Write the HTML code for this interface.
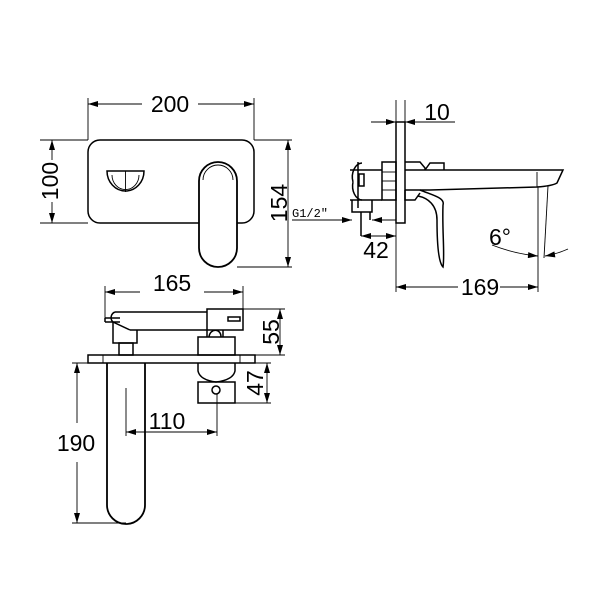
<!DOCTYPE html>
<html><head><meta charset="utf-8"><style>html,body{margin:0;padding:0;background:#fff}svg{display:block}</style></head>
<body>
<svg width="600" height="600" viewBox="0 0 600 600" xmlns="http://www.w3.org/2000/svg">
<defs>
<marker id="a" viewBox="0 0 10 6" refX="10" refY="3" markerWidth="11" markerHeight="6" orient="auto-start-reverse" markerUnits="userSpaceOnUse"><path d="M0,0 L10,3 L0,6 z" fill="#000"/></marker>
</defs>
<g fill="none" stroke="#000" stroke-width="1.5">
<!-- front view -->
<rect x="88" y="140" width="166" height="83" rx="12"/>
<path d="M107,171 H144 A18.5,20 0 0 1 107,171 Z"/>
<path d="M112,175 A13,14 0 0 0 139,175" stroke-width="0.9"/>
<line x1="125.5" y1="171" x2="125.5" y2="192" stroke-width="0.9"/>
<rect x="199" y="162" width="38" height="105" rx="19" fill="#fff" stroke-width="1.8"/>
<path d="M203,180 A15,15 0 0 1 233,180" stroke-width="0.9"/>
<!-- dims front -->
<g stroke-width="0.9">
<line x1="88" y1="98" x2="88" y2="140"/>
<line x1="254" y1="98" x2="254" y2="140"/>
<line x1="88" y1="104" x2="142" y2="104" marker-start="url(#a)"/>
<line x1="198" y1="104" x2="254" y2="104" marker-end="url(#a)"/>
<line x1="40" y1="140" x2="88" y2="140"/>
<line x1="40" y1="223" x2="88" y2="223"/>
<line x1="52" y1="140" x2="52" y2="160" marker-start="url(#a)"/>
<line x1="52" y1="202" x2="52" y2="223" marker-end="url(#a)"/>
<line x1="254" y1="140" x2="292" y2="140"/>
<line x1="237" y1="267" x2="292" y2="267"/>
<line x1="288" y1="140" x2="288" y2="267" marker-start="url(#a)" marker-end="url(#a)"/>
</g>
<!-- side view -->
<rect x="396" y="122" width="9" height="101"/>
<rect x="382" y="162" width="14" height="38"/>
<line x1="382" y1="172" x2="396" y2="172" stroke-width="0.9"/>
<line x1="382" y1="181" x2="396" y2="181" stroke-width="0.9"/>
<line x1="382" y1="190" x2="396" y2="190" stroke-width="0.9"/>
<path d="M350,170 H382 M350,200 H382"/>
<path d="M358,162 V208 M353,182 A10,14 0 0 1 362,163 M353,182 A10,14 0 0 0 362,200"/>
<rect x="359" y="174" width="5" height="12"/>
<path d="M352,200 V212 H372 V200 M361,212 V236 M370,212 V220"/>
<path d="M405,170 H563 L557,183 Q552,186 537,187 L430,190 H405"/>
<line x1="537" y1="172" x2="537" y2="187" stroke-width="0.9"/>
<path d="M405,162 H420 L425,168 V170 M425,170 L430,163 H444 V170"/>
<path d="M405,190 V200 H415 L420,193"/>
<path d="M420,190 C435,196 445,198 443,205 C442,230 445,255 443,267 C438,262 437,240 437,220 C437,205 428,198 418,196" />
<!-- side dims -->
<g stroke-width="0.9">
<line x1="405" y1="100" x2="405" y2="122"/>
<line x1="396" y1="100" x2="396" y2="122"/>
<line x1="371" y1="122" x2="396" y2="122" marker-end="url(#a)"/>
<line x1="455" y1="122" x2="405" y2="122" marker-end="url(#a)"/>
<line x1="292" y1="220" x2="352" y2="220" marker-end="url(#a)"/>
<line x1="396" y1="220" x2="372" y2="220" marker-end="url(#a)"/>
<line x1="361" y1="236" x2="396" y2="236" marker-start="url(#a)" marker-end="url(#a)"/>
<line x1="396" y1="223" x2="396" y2="292"/>
<line x1="538" y1="187" x2="538" y2="292"/>
<line x1="396" y1="287" x2="458" y2="287" marker-start="url(#a)"/>
<line x1="500" y1="287" x2="538" y2="287" marker-end="url(#a)"/>
<line x1="548" y1="186" x2="544" y2="258"/>
<path d="M492,245 Q515,254 538,256" marker-end="url(#a)"/>
<path d="M568,249 Q557,254 545,256" marker-end="url(#a)"/>
</g>
<!-- top view -->
<rect x="88" y="355" width="167" height="8"/>
<line x1="103" y1="355" x2="103" y2="363" stroke-width="0.9"/>
<line x1="240" y1="355" x2="240" y2="363" stroke-width="0.9"/>
<path d="M115,312 H207 M130,330 H207 M207,309 H243 V330 H207 Z"/>
<path d="M115,312 A6,6 0 0 0 113,322 L130,330"/>
<path d="M105,318 H120 M105,322 H120 M105,318 V322"/>
<path d="M113,322 V343 H137 V330"/>
<rect x="119" y="343" width="14" height="12"/>
<path d="M228,317 H240 V321 H228 Z"/>
<path d="M207,330 V337 M223,330 V337 M209,337 C210,328 221,328 221,337"/>
<rect x="198" y="337" width="37" height="18"/>
<path d="M198,363 V371 Q200,380 216,382 Q233,380 235,371 V363"/>
<rect x="198" y="382" width="37" height="21"/>
<circle cx="216" cy="390" r="4"/>
<path d="M107,363 V505 A19,19 0 0 0 145,505 V363" stroke-width="1.8"/>
<!-- top dims -->
<g stroke-width="0.9">
<line x1="105" y1="286" x2="105" y2="318"/>
<line x1="243" y1="286" x2="243" y2="309"/>
<line x1="105" y1="292" x2="140" y2="292" marker-start="url(#a)"/>
<line x1="204" y1="292" x2="243" y2="292" marker-end="url(#a)"/>
<line x1="243" y1="309" x2="285" y2="309"/>
<line x1="255" y1="355" x2="285" y2="355"/>
<line x1="280" y1="309" x2="280" y2="355" marker-start="url(#a)" marker-end="url(#a)"/>
<line x1="235" y1="363" x2="271" y2="363"/>
<line x1="235" y1="403" x2="271" y2="403"/>
<line x1="267" y1="363" x2="267" y2="403" marker-start="url(#a)" marker-end="url(#a)"/>
<line x1="126" y1="388" x2="126" y2="436"/>
<line x1="217" y1="394" x2="217" y2="436"/>
<line x1="126" y1="432" x2="217" y2="432" marker-start="url(#a)" marker-end="url(#a)"/>
<line x1="72" y1="363" x2="107" y2="363"/>
<line x1="72" y1="523" x2="126" y2="523"/>
<line x1="77" y1="363" x2="77" y2="423" marker-start="url(#a)"/>
<line x1="77" y1="462" x2="77" y2="523" marker-end="url(#a)"/>
</g>
</g>
<g font-family="Liberation Sans, sans-serif" font-size="23" fill="#000" text-anchor="middle">
<text x="170" y="112">200</text>
<text transform="translate(58,181) rotate(-90)">100</text>
<text transform="translate(287,203) rotate(-90)">154</text>
<text x="437" y="120">10</text>
<text x="376" y="258">42</text>
<text x="480" y="295">169</text>
<text x="500" y="245">6°</text>
<text x="172" y="291">165</text>
<text transform="translate(279,332) rotate(-90)">55</text>
<text transform="translate(263,383) rotate(-90)">47</text>
<text x="167" y="429">110</text>
<text x="76" y="451">190</text>
</g>
<text x="292" y="217" font-family="Liberation Mono, monospace" font-size="12">G1/2″</text>
</svg>
</body></html>
